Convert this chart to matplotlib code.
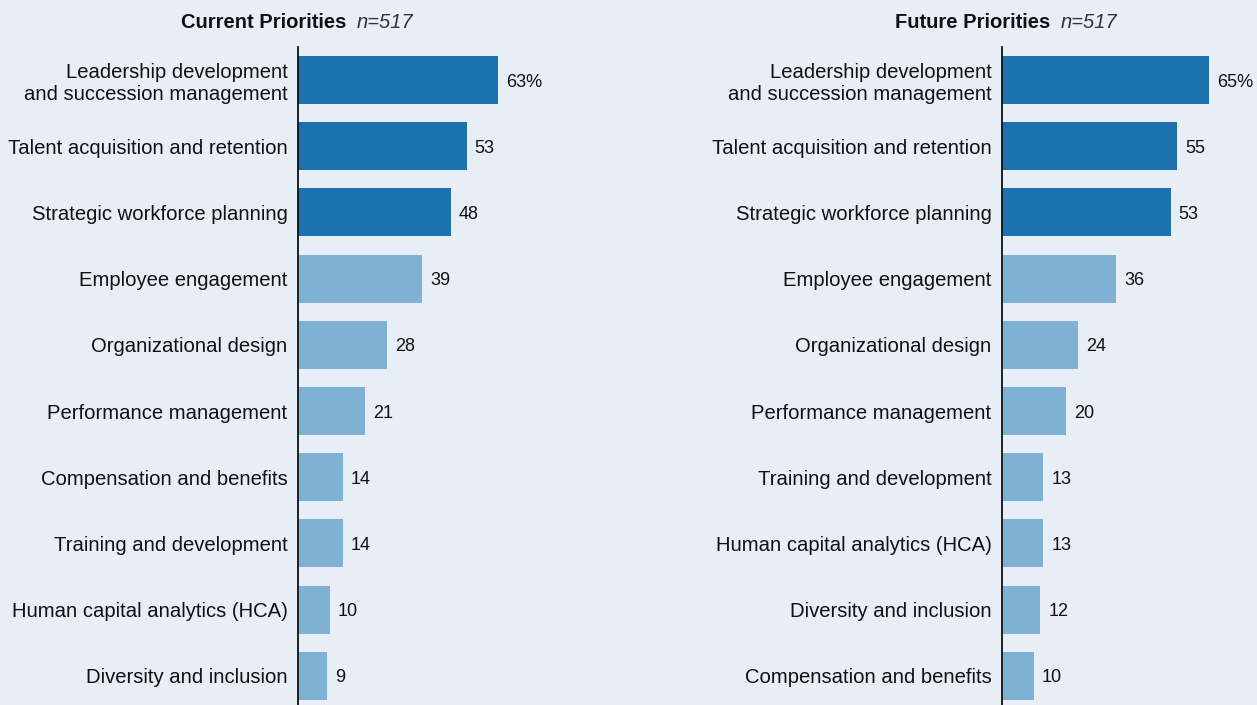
import matplotlib.pyplot as plt

# current priorities, top to bottom
cur_labels = ['Leadership development\nand succession management',
              'Talent acquisition and retention',
              'Strategic workforce planning',
              'Employee engagement',
              'Organizational design',
              'Performance management',
              'Compensation and benefits',
              'Training and development',
              'Human capital analytics (HCA)',
              'Diversity and inclusion']
cur_values = [63, 53, 48, 39, 28, 21, 14, 14, 10, 9]

# future priorities, top to bottom
fut_labels = ['Leadership development\nand succession management',
              'Talent acquisition and retention',
              'Strategic workforce planning',
              'Employee engagement',
              'Organizational design',
              'Performance management',
              'Training and development',
              'Human capital analytics (HCA)',
              'Diversity and inclusion',
              'Compensation and benefits']
fut_values = [65, 55, 53, 36, 24, 20, 13, 13, 12, 10]

bg = '#e7eef6'
dark = '#1b72ad'
light = '#7fb1d5'

plt.rcParams['font.family'] = ['Liberation Sans', 'DejaVu Sans']

W, H = 1257, 705
fig = plt.figure(figsize=(W / 100, H / 100), dpi=100)
fig.patch.set_facecolor(bg)

px_per_unit = 3.18
ax_w = 240


def panel(x0, labels, values, title):
    ax = fig.add_axes([x0 / W, 0, ax_w / W, (H - 47) / H])
    ax.set_facecolor(bg)
    ax.patch.set_alpha(0)
    y = list(range(len(values)))
    colors = [dark if i < 3 else light for i in range(len(values))]
    ax.barh(y, values, height=0.725, color=colors, left=0)
    ax.set_xlim(0, ax_w / px_per_unit)
    ax.set_ylim(9.44, -0.5)
    for s in ['top', 'right', 'bottom']:
        ax.spines[s].set_visible(False)
    ax.spines['left'].set_color('#111111')
    ax.spines['left'].set_linewidth(1.3)
    ax.set_xticks([])
    ax.set_yticks(y)
    ax.set_yticklabels(labels, fontsize=14.6, color='#111111', linespacing=1.2)
    ax.tick_params(axis='y', length=0, pad=7.5)
    for i, v in enumerate(values):
        txt = f'{v}%' if i == 0 else str(v)
        ax.text(v + 2.6, i + 0.03, txt, va='center', ha='left', fontsize=13, color='#111111')
    fig.text((x0 + 48) / W, 1 - 22 / H, title, ha='right', va='center',
             fontsize=14.5, fontweight='bold', color='#111111')
    fig.text((x0 + 59) / W, 1 - 22 / H, 'n=517', ha='left', va='center',
             fontsize=14.5, style='italic', color='#333333')
    return ax


panel(298, cur_labels, cur_values, 'Current Priorities')
panel(1002, fut_labels, fut_values, 'Future Priorities')

fig.savefig('out.png', dpi=100, facecolor=bg)
